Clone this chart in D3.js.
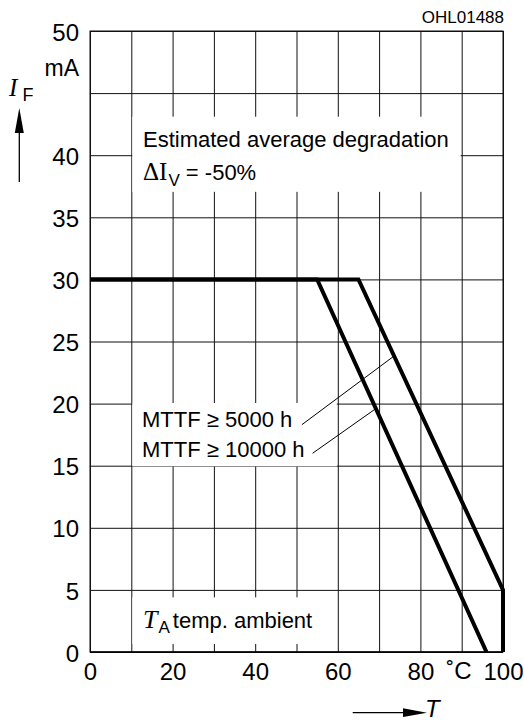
<!DOCTYPE html>
<html>
<head>
<meta charset="utf-8">
<script src="https://cdn.jsdelivr.net/npm/d3@7"></script>
<style>
  body { margin: 0; background: #fff; }
  text { font-family: "Liberation Sans", Arial, sans-serif; fill: #000; }
</style>
</head>
<body>
<svg width="524" height="723"></svg>
<script>
// valores
const xTicks = [0, 20, 40, 60, 80, 100];
const xGridValues = [0, 10, 20, 30, 40, 50, 60, 70, 80, 90, 100];
const yGridValues = [0, 5, 10, 15, 20, 25, 30, 35, 40, 45, 50];
const yTicks = [0, 5, 10, 15, 20, 25, 30, 35, 40, 50];      // 45 dá lugar ao "mA"
const curve5000 = [[0, 30], [65, 30], [100, 5], [100, 0]];   // MTTF >= 5000 h
const curve10000 = [[0, 30], [55, 30], [96, 0]];            // MTTF >= 10000 h
const leader5000 = [[51.3, 18.3], [73.5, 23.8]];
const leader10000 = [[53.9, 16.0], [68.8, 19.5]];

const svg = d3.select("svg");
const margin = {left: 90, top: 31, right: 21, bottom: 71};
const width = +svg.attr("width"), height = +svg.attr("height");

const x = d3.scaleLinear()
    .domain([0, 100])
    .range([margin.left, width - margin.right]);   // 90 .. 503

const y = d3.scaleLinear()
    .domain([0, 50])
    .range([height - margin.bottom, margin.top]);  // 652 .. 31

// grade
svg.append("g")
    .attr("transform", "translate(0," + y(0) + ")")
    .call(d3.axisBottom(x).tickValues(xGridValues).tickSize(-(y(0) - y(50))).tickFormat(""))
    .call(g => g.select(".domain").remove())
    .selectAll("line").attr("stroke", "#111");

svg.append("g")
    .attr("transform", "translate(" + x(0) + ",0)")
    .call(d3.axisLeft(y).tickValues(yGridValues).tickSize(-(x(100) - x(0))).tickFormat(""))
    .call(g => g.select(".domain").remove())
    .selectAll("line").attr("stroke", "#111");

// caixas brancas atrás dos textos
const boxes = [
  {x0: 10, x1: 90, y0: 37.05, y1: 43.1},
  {x0: 10, x1: 60, y0: 14.95, y1: 20.05},
  {x0: 10, x1: 60, y0: 0.65, y1: 4.4}
];
svg.selectAll("rect.box")
  .data(boxes)
  .enter().append("rect")
    .attr("class", "box")
    .attr("x", d => x(d.x0) + 1)
    .attr("width", d => x(d.x1) - x(d.x0) - 2)
    .attr("y", d => y(d.y1))
    .attr("height", d => y(d.y0) - y(d.y1))
    .attr("fill", "#fff");

// moldura
svg.append("rect")
    .attr("x", x(0)).attr("y", y(50))
    .attr("width", x(100) - x(0)).attr("height", y(0) - y(50))
    .attr("fill", "none").attr("stroke", "#111").attr("stroke-width", 1);
svg.append("line")
    .attr("x1", x(0)).attr("x2", x(100)).attr("y1", y(0)).attr("y2", y(0))
    .attr("stroke", "#000").attr("stroke-width", 1.5);

// curvas
svg.append("clipPath").attr("id", "clip")
  .append("rect")
    .attr("x", x(0)).attr("y", y(50))
    .attr("width", x(100) - x(0) + 2).attr("height", y(0) - y(50));

const line = d3.line().x(d => x(d[0])).y(d => y(d[1]));

svg.append("g").attr("clip-path", "url(#clip)")
  .selectAll("path")
  .data([curve5000, curve10000])
  .enter().append("path")
    .attr("d", line)
    .attr("fill", "none")
    .attr("stroke", "#000")
    .attr("stroke-width", 4)
    .attr("stroke-linejoin", "miter");

svg.selectAll("path.leader")
  .data([leader5000, leader10000])
  .enter().append("path")
    .attr("class", "leader")
    .attr("d", line)
    .attr("fill", "none")
    .attr("stroke", "#000")
    .attr("stroke-width", 1);

// eixos (só rótulos)
svg.append("g")
    .attr("transform", "translate(0," + y(0) + ")")
    .call(d3.axisBottom(x).tickValues(xTicks).tickSize(0).tickPadding(11))
    .call(g => g.select(".domain").remove())
    .attr("font-size", 24)
    .attr("font-family", "Liberation Sans, Arial, sans-serif");

svg.append("g")
    .attr("transform", "translate(" + x(0) + ",0)")
    .call(d3.axisLeft(y).tickValues(yTicks).tickSize(0).tickPadding(11))
    .call(g => g.select(".domain").remove())
    .attr("font-size", 24)
    .attr("font-family", "Liberation Sans, Arial, sans-serif")
    .selectAll("text").attr("dy", "0.38em");

// unidades
svg.append("text").attr("x", 79).attr("y", 76).attr("text-anchor", "end")
    .attr("font-size", 23).text("mA");
svg.append("text").attr("x", 459).attr("y", 679).attr("text-anchor", "middle")
    .attr("font-size", 24).text("˚C");
svg.append("text").attr("x", 504).attr("y", 23).attr("text-anchor", "end")
    .attr("font-size", 17).text("OHL01488");

// I_F com seta
const iF = svg.append("text").attr("x", 9).attr("y", 96);
iF.append("tspan").attr("font-family", "Liberation Serif, serif").attr("font-style", "italic")
    .attr("font-size", 25).text("I");
iF.append("tspan").attr("x", 22.5).attr("y", 100.7).attr("font-size", 18).text("F");
svg.append("line").attr("x1", 19.3).attr("x2", 19.3).attr("y1", 182).attr("y2", 125)
    .attr("stroke", "#000").attr("stroke-width", 1.3);
svg.append("path").attr("d", "M19.3,108L14.8,133L23.8,133Z").attr("fill", "#000");

// T com seta
svg.append("line").attr("x1", 352.7).attr("x2", 410).attr("y1", 712.7).attr("y2", 712.7)
    .attr("stroke", "#000").attr("stroke-width", 1.3);
svg.append("path").attr("d", "M403,708.3L427,712.7L403,717.1Z").attr("fill", "#000");
svg.append("text").attr("x", 425).attr("y", 717)
    .attr("font-family", "Liberation Serif, serif").attr("font-style", "italic")
    .attr("font-size", 24).text("T");

// anotações
svg.append("text").attr("x", 143).attr("y", 147).attr("font-size", 22)
    .text("Estimated average degradation");
const dI = svg.append("text").attr("x", 143).attr("y", 180);
dI.append("tspan").attr("font-family", "Liberation Serif, serif").attr("font-size", 25).text("ΔI");
dI.append("tspan").attr("font-size", 17).attr("dx", 1).attr("dy", 6).text("V");
dI.append("tspan").attr("font-size", 22).attr("dy", -6).text(" = -50%");

svg.append("text").attr("x", 142).attr("y", 427).attr("font-size", 22).text("MTTF ≥ 5000 h");
svg.append("text").attr("x", 142).attr("y", 457).attr("font-size", 22).text("MTTF ≥ 10000 h");

const tA = svg.append("text").attr("x", 143).attr("y", 628);
tA.append("tspan").attr("font-family", "Liberation Serif, serif").attr("font-style", "italic")
    .attr("font-size", 26).text("T");
tA.append("tspan").attr("font-size", 17).attr("dx", 1).attr("dy", 5).text("A");
tA.append("tspan").attr("font-size", 22).attr("dx", 3).attr("dy", -5).text("temp. ambient");
</script>
</body>
</html>
